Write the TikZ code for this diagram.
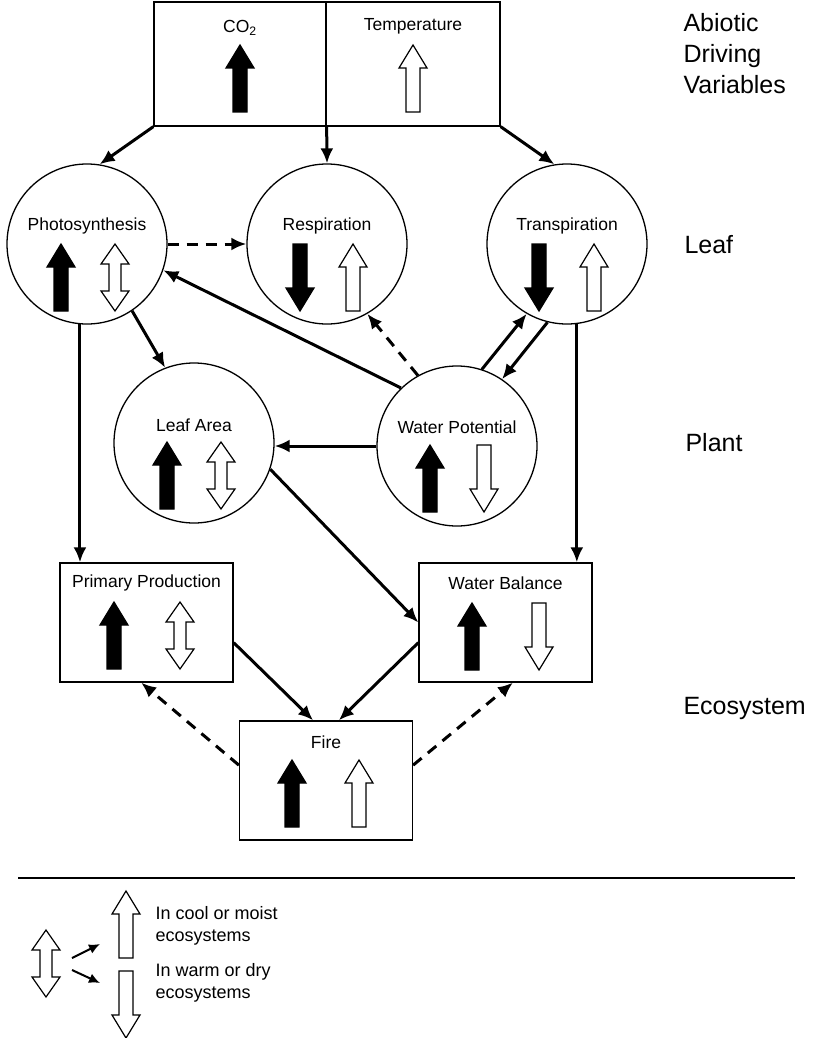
\documentclass[tikz,border=0pt]{standalone}
\usepackage{fontspec}
\setmainfont{Liberation Sans}
\usetikzlibrary{shapes,positioning}
\usetikzlibrary{arrows.meta,calc}

\newcommand{\upblk}[3]{\filldraw[fill=#1,line width=1.2pt,line join=miter] (#2,#3) -- ++(14,23) -- ++(-7,0) -- ++(0,44) -- ++(-14,0) -- ++(0,-44) -- ++(-7,0) -- cycle;}
\newcommand{\dnblk}[3]{\filldraw[fill=#1,line width=1.2pt,line join=miter] (#2,#3) ++(-7,0) -- ++(14,0) -- ++(0,44) -- ++(7,0) -- ++(-14,23) -- ++(-14,-23) -- ++(7,0) -- cycle;}
\newcommand{\dblblk}[2]{\filldraw[fill=white,line width=1.2pt,line join=miter] (#1,#2) -- ++(14,20) -- ++(-8,0) -- ++(0,27) -- ++(8,0) -- ++(-14,20) -- ++(-14,-20) -- ++(8,0) -- ++(0,-27) -- ++(-8,0) -- cycle;}

\tikzset{
  circ/.style={draw,circle,line width=1.3pt,minimum size=160pt,inner sep=0pt},
  box/.style={draw,rectangle,line width=1.3pt,minimum width=173pt,minimum height=119pt,inner sep=0pt},
  txt/.style={font=\fontsize{17.5}{20}\selectfont},
  big/.style={font=\fontsize{25}{31}\selectfont,anchor=west,align=left},
  leg/.style={font=\fontsize{18}{22}\selectfont,anchor=west,align=left},
  link/.style={line width=3pt,-{Latex[length=15pt,width=13pt]}},
  dlink/.style={link,dash pattern=on 11pt off 8pt},
}

\begin{document}
\begin{tikzpicture}[x=1pt,y=-1pt]
\useasboundingbox (0,0) rectangle (813,1038);

\node[box,minimum width=172pt,minimum height=124pt] (co2) at (240,64) {};
\node[box,minimum width=174pt,minimum height=124pt] (temp) at (413,64) {};
\node[txt] (co2t) at (240,28) {CO\textsubscript{2}};
\node[txt] (tempt) at (413,26) {Temperature};
\upblk{black}{240}{45}
\upblk{white}{413}{45}

\node[circ] (photo) at (87,244) {};
\node[circ] (resp) at (327,244) {};
\node[circ] (trans) at (567,244) {};
\node[circ] (la) at (194,443) {};
\node[circ] (wp) at (457,446) {};
\node[txt] (photot) at (87,226) {Photosynthesis};
\node[txt] (respt) at (327,226) {Respiration};
\node[txt] (transt) at (567,226) {Transpiration};
\node[txt] (lat) at (194,425) {Leaf Area};
\node[txt] (wpt) at (457,427) {Water Potential};
\upblk{black}{61}{244}  \dblblk{115}{244}
\dnblk{black}{300}{244} \upblk{white}{353}{244}
\dnblk{black}{539}{244} \upblk{white}{594}{244}
\upblk{black}{167}{442} \dblblk{221}{442}
\upblk{black}{430}{445} \dnblk{white}{484}{445}

\node[box] (pp) at (146.5,622.5) {};
\node[box] (wb) at (505.5,622.5) {};
\node[box] (fire) at (326,780.5) {};
\node[txt] (ppt) at (146.5,583) {Primary Production};
\node[txt] (wbt) at (505.5,583) {Water Balance};
\node[txt] (firet) at (326,742) {Fire};
\upblk{black}{114}{602} \dblblk{180}{602}
\upblk{black}{472}{603} \dnblk{white}{539}{603}
\upblk{black}{292}{760} \upblk{white}{359}{760}

\node[big] (abiotic) at (680,54) {Abiotic\\Driving\\Variables};
\node[big] (leaf) at (681,245) {Leaf};
\node[big] (plant) at (682,443) {Plant};
\node[big] (eco) at (680,708) {Ecosystem};

\draw[link] (co2.south west) -- (photo.81);
\draw[link] (co2.south east) -- (resp.north);
\draw[link] (temp.south east) -- (trans.99);
\draw[dlink] (photo.east) -- (resp.west);
\draw[link] (wp.134) -- (photo.-19);
\draw[dlink] (wp.119) -- (resp.-60);
\draw[link] (wp.72) -- (trans.-120);
\draw[link] (trans.-104) -- (wp.56);
\draw[link] (photo.-56) -- (la.111);
\draw[link] (wp.west) -- (wp.west -| la.east);
\draw[link] (photo.-95) -- (photo.-95 |- pp.north);
\draw[link] (trans.-83) -- (trans.-83 |- wb.north);
\draw[link] (la.-19) -- (wb.west);
\draw[link] (pp.-13) -- (fire.102);
\draw[link] (wb.-167) -- (fire.78);
\draw[dlink] (fire.170) -- (pp.-95);
\draw[dlink] (fire.10) -- (wb.-83);

\draw[line width=1.2pt] (18,878) -- (795,878);
\dblblk{46}{930}
\upblk{white}{126}{891}
\dnblk{white}{126}{971}
\coordinate (lg) at (72,964);
\coordinate (lgup) at (100,944);
\coordinate (lgdn) at (100,983);
\draw[line width=2pt,-{Latex[length=11pt,width=10pt]}] ($(lg)+(0,-6)$) -- (lgup);
\draw[line width=2pt,-{Latex[length=11pt,width=10pt]}] ($(lg)+(0,6)$) -- (lgdn);
\node[leg] (cool) at (152,926) {In cool or moist\\ecosystems};
\node[leg] (warm) at (152,983) {In warm or dry\\ecosystems};
\end{tikzpicture}
\end{document}
